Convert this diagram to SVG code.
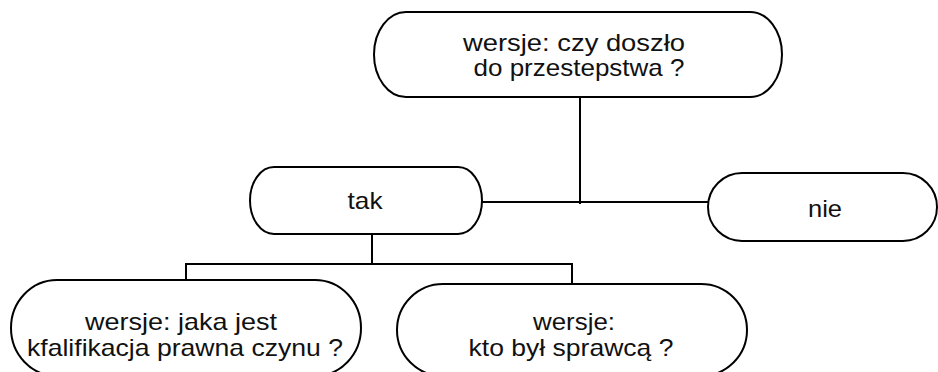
<svg xmlns="http://www.w3.org/2000/svg" width="938" height="372" viewBox="0 0 938 372">
<style>
.n{fill:#fff;stroke:#000;stroke-width:2}
.c{fill:none;stroke:#000;stroke-width:2;stroke-linecap:square}
text{font-family:"Liberation Sans",Arial,sans-serif;font-size:24px;fill:#111;text-anchor:middle}
</style>
<rect width="938" height="372" fill="#fff"/>
<g id="connectors">
<path class="c" d="M580 98V203"/>
<path class="c" d="M483 202H708"/>
<path class="c" d="M372 236V264"/>
<path class="c" d="M186 264H572"/>
<path class="c" d="M186 264V280"/>
<path class="c" d="M572 264V284"/>
</g>
<g id="n_top">
<path class="n" d="M406 12H750A32 42.5 0 0 1 750 97H406A32 42.5 0 0 1 406 12Z"/>
<text x="574" y="51" textLength="222" lengthAdjust="spacingAndGlyphs">wersje: czy doszło</text>
<text x="579" y="76" textLength="211" lengthAdjust="spacingAndGlyphs">do przestepstwa ?</text>
</g>
<g id="n_tak">
<path class="n" d="M274 167H458A24 33.5 0 0 1 458 234H274A24 33.5 0 0 1 274 167Z"/>
<text x="365" y="209" textLength="35" lengthAdjust="spacingAndGlyphs">tak</text>
</g>
<g id="n_nie">
<path class="n" d="M742 173H903A34 34 0 0 1 903 241H742A34 34 0 0 1 742 173Z"/>
<text x="825" y="217" textLength="34" lengthAdjust="spacingAndGlyphs">nie</text>
</g>
<g id="n_left">
<path class="n" d="M57 280H315A46 48 0 0 1 315 376H57A46 48 0 0 1 57 280Z"/>
<text x="181" y="330" textLength="192" lengthAdjust="spacingAndGlyphs">wersje: jaka jest</text>
<text x="185" y="356" textLength="316" lengthAdjust="spacingAndGlyphs">kfalifikacja prawna czynu ?</text>
</g>
<g id="n_right">
<path class="n" d="M443 284H701A46 46 0 0 1 701 376H443A46 46 0 0 1 443 284Z"/>
<text x="574" y="330" textLength="82" lengthAdjust="spacingAndGlyphs">wersje:</text>
<text x="571" y="356" textLength="205" lengthAdjust="spacingAndGlyphs">kto był sprawcą ?</text>
</g>
</svg>
